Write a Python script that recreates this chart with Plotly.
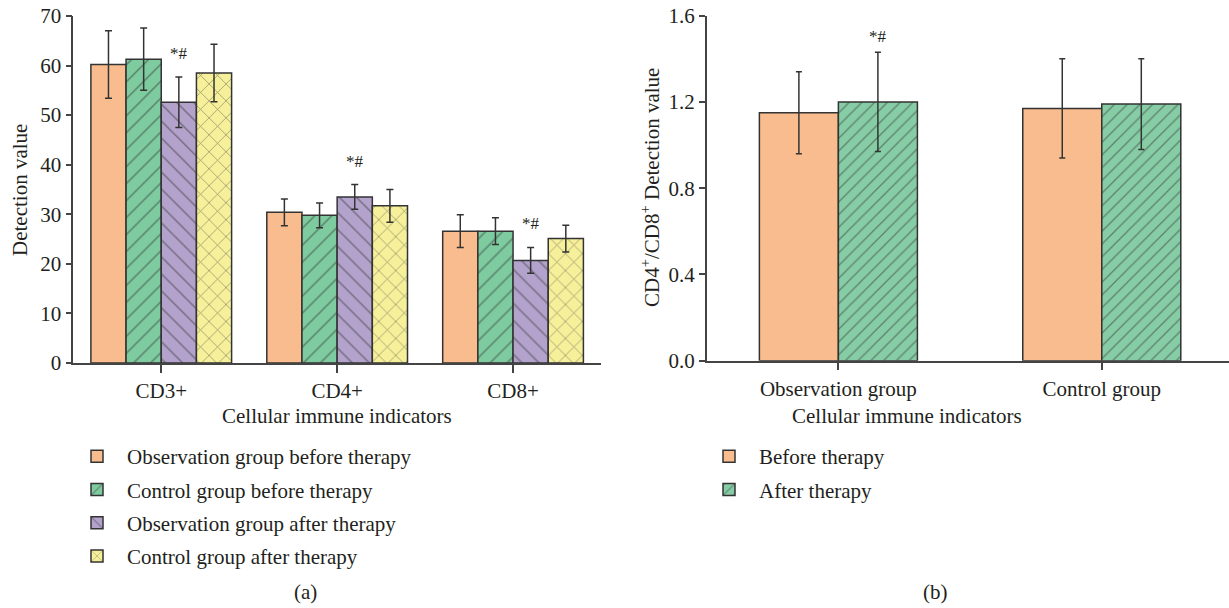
import plotly.graph_objects as go

# ---------------- data ----------------
indicators = ["CD3+", "CD4+", "CD8+"]
series_a = ["Observation group before therapy", "Control group before therapy",
            "Observation group after therapy", "Control group after therapy"]
obs_before = [60.2, 30.4, 26.6]
obs_before_err = [6.8, 2.7, 3.3]
ctl_before = [61.3, 29.8, 26.6]
ctl_before_err = [6.3, 2.5, 2.7]
obs_after = [52.6, 33.5, 20.7]
obs_after_err = [5.1, 2.5, 2.6]
ctl_after = [58.5, 31.7, 25.1]
ctl_after_err = [5.8, 3.3, 2.7]

groups_b = ["Observation group", "Control group"]
series_b = ["Before therapy", "After therapy"]
ratio_before = [1.15, 1.17]
ratio_before_err = [0.19, 0.23]
ratio_after = [1.20, 1.19]
ratio_after_err = [0.23, 0.21]

sig_label = "*#"

# ---------------- style ----------------
W, H = 1229, 608
FONT = "Liberation Serif"
FS = 21
TXT = "#231F20"
EDGE = "#333333"
AXIS = "#444444"
ORANGE = "#F8BC8F"
GREEN = "#7ECB9F"
PURPLE = "#B3A3CC"
YELLOW = "#F6F09B"
GREEN_B = "#86CDA5"

def px_x(p):
    return p / W

def px_y(p):
    return 1 - p / H

fig = go.Figure()

specs_a = [
    (series_a[0], obs_before, obs_before_err, ORANGE, ""),
    (series_a[1], ctl_before, ctl_before_err, GREEN, "/"),
    (series_a[2], obs_after, obs_after_err, PURPLE, "\\"),
    (series_a[3], ctl_after, ctl_after_err, YELLOW, "x"),
]
for name, vals, errs, col, shp in specs_a:
    fig.add_trace(go.Bar(
        x=indicators, y=vals, name=name, legend="legend", legendgroup=name,
        xaxis="x", yaxis="y",
        marker=dict(color=col, line=dict(color=EDGE, width=1.5),
                    pattern=dict(shape=shp, fgcolor=EDGE, bgcolor=col, size=12, solidity=0.12)),
        error_y=dict(type="data", array=errs, color=EDGE, thickness=1.5, width=3.5),
    ))

specs_b = [
    (series_b[0], ratio_before, ratio_before_err, ORANGE, "", -0.3),
    (series_b[1], ratio_after, ratio_after_err, GREEN_B, "/", 0.0),
]
for name, vals, errs, col, shp, off in specs_b:
    fig.add_trace(go.Bar(
        x=groups_b, y=vals, name=name, legend="legend2", legendgroup=name,
        xaxis="x2", yaxis="y2", width=0.3, offset=off,
        marker=dict(color=col, line=dict(color=EDGE, width=1.5),
                    pattern=dict(shape=shp, fgcolor=EDGE, bgcolor=col, size=9, solidity=0.14)),
        error_y=dict(type="data", array=errs, color=EDGE, thickness=1.5, width=3),
    ))

# significance marks above "after therapy" observation bars
for i, (v, e) in enumerate(zip(obs_after, obs_after_err)):
    fig.add_annotation(x=i + 0.1, y=v + e, xref="x", yref="y", text=sig_label,
                       showarrow=False, yanchor="bottom", yshift=12,
                       font=dict(family=FONT, size=17, color=TXT))
fig.add_annotation(x=0 + 0.15, y=ratio_after[0] + ratio_after_err[0], xref="x2", yref="y2",
                   text=sig_label, showarrow=False, yanchor="bottom", yshift=4,
                   font=dict(family=FONT, size=17, color=TXT))

axis_common = dict(showline=True, linecolor=AXIS, linewidth=1.5, ticks="outside",
                   tickcolor=AXIS, tickwidth=1.5, showgrid=False, zeroline=False,
                   automargin=False,
                   tickfont=dict(family=FONT, size=FS, color=TXT))

fig.update_layout(
    width=W, height=H,
    margin=dict(l=0, r=0, t=0, b=0),
    paper_bgcolor="white", plot_bgcolor="white",
    font=dict(family=FONT, size=FS, color=TXT),
    barmode="group",
    bargap=0.2, bargroupgap=0,
    xaxis=dict(domain=[px_x(73.3), px_x(601)], range=[-0.5, 2.5], ticklen=8,
               anchor="y", **axis_common),
    yaxis=dict(domain=[px_y(363), px_y(16)], range=[0, 70], dtick=10, ticklen=6,
               anchor="x", **axis_common),
    xaxis2=dict(domain=[px_x(706.7), 1.0], range=[-0.5, 1.483], ticklen=8, anchor="y2",
                **axis_common),
    yaxis2=dict(domain=[px_y(360.7), px_y(15.7)], range=[0, 1.6], dtick=0.4, ticklen=6,
                tickformat=".1f", anchor="x2", **axis_common),
    legend=dict(x=px_x(67), y=px_y(436), xanchor="left", yanchor="top",
                font=dict(family=FONT, size=FS, color=TXT), tracegroupgap=3,
                itemwidth=50, bgcolor="rgba(0,0,0,0)"),
    legend2=dict(x=px_x(699), y=px_y(436), xanchor="left", yanchor="top",
                 font=dict(family=FONT, size=FS, color=TXT), tracegroupgap=3,
                 itemwidth=50, bgcolor="rgba(0,0,0,0)"),
)

for txt, x, y, ang in [("Detection value", 20, 190, -90),
                       ("CD4<sup>+</sup>/CD8<sup>+</sup> Detection value", 650, 188, -90),
                       ("Cellular immune indicators", 337, 416, 0),
                       ("Cellular immune indicators", 907, 416, 0),
                       ("(a)", 305, 592, 0), ("(b)", 935, 592, 0)]:
    fig.add_annotation(x=px_x(x), y=px_y(y), xref="paper", yref="paper", text=txt,
                       showarrow=False, xanchor="center", yanchor="middle", textangle=ang,
                       font=dict(family=FONT, size=FS, color=TXT))

fig.write_html("out.html", config={"displayModeBar": False},
               post_script="document.body.style.margin='0';document.body.style.overflow='hidden';")
